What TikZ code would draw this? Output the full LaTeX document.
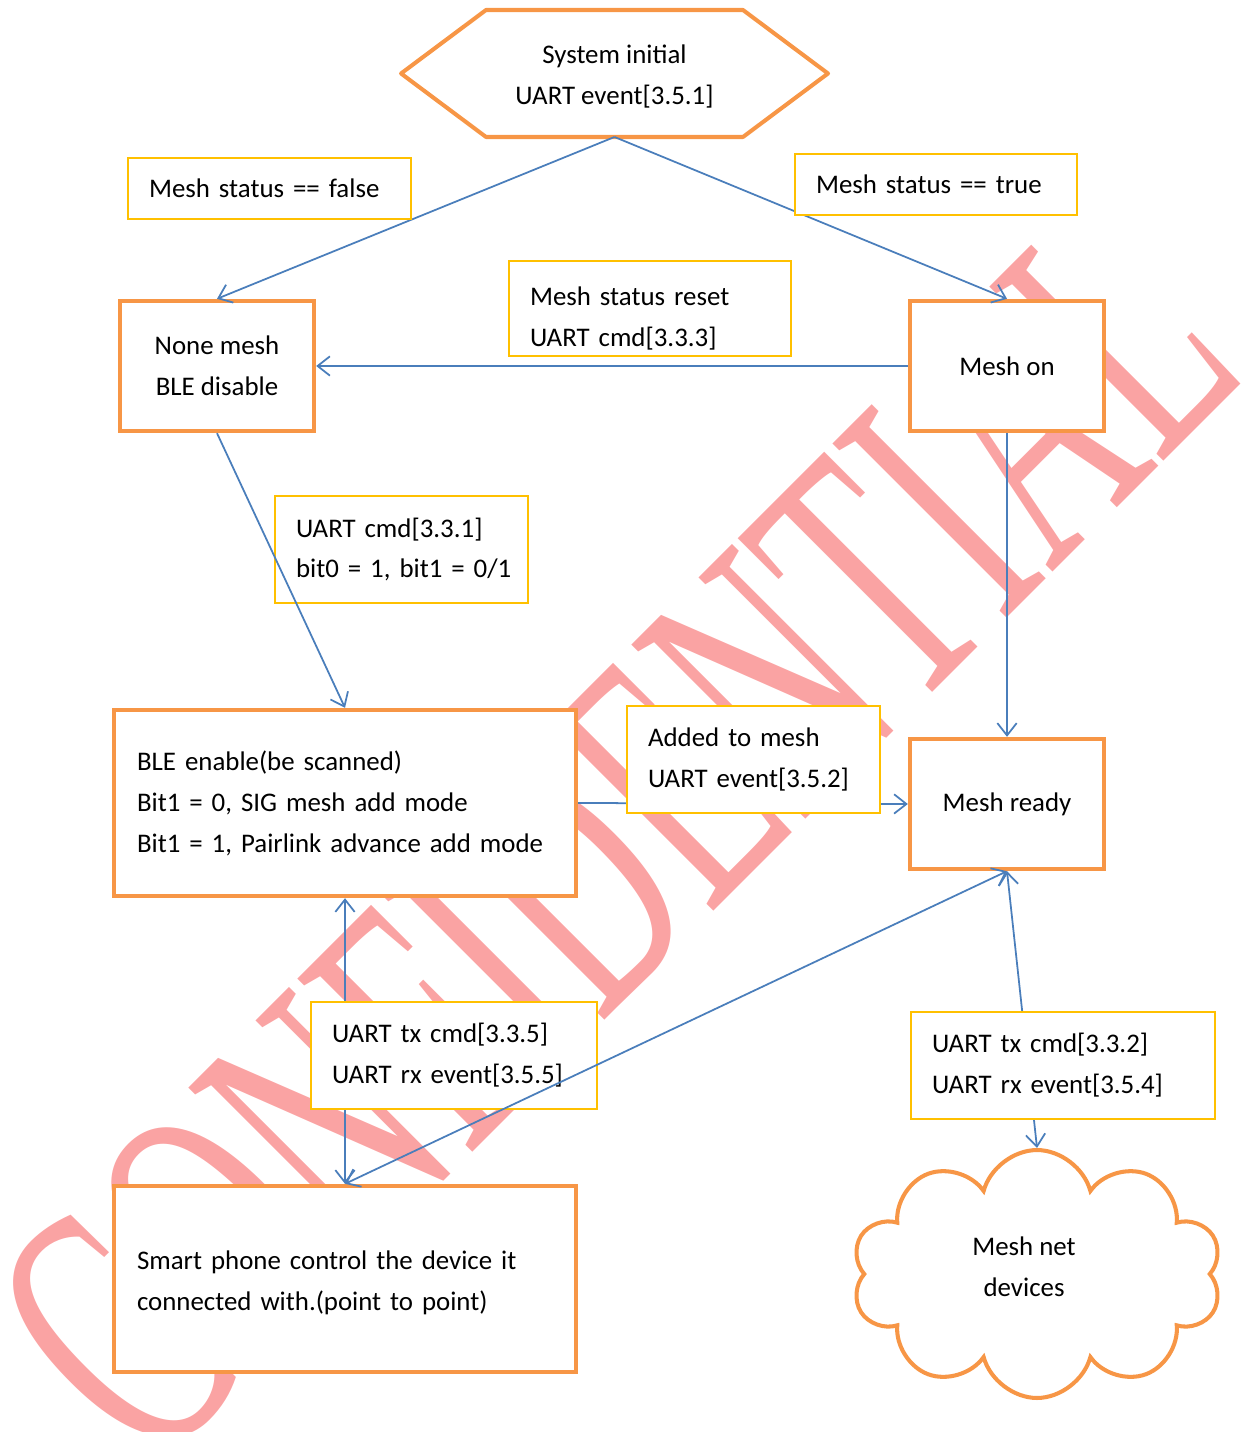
\documentclass[tikz,border=0pt]{standalone}
\usepackage{fontspec}
\setmainfont{Carlito}
\newfontfamily\wmfont{Liberation Serif}
\usetikzlibrary{arrows.meta,shapes.symbols}
\definecolor{boxorange}{RGB}{247,150,70}
\definecolor{lblyellow}{RGB}{255,192,0}
\definecolor{linkblue}{RGB}{74,126,187}
\definecolor{wmpink}{RGB}{250,163,163}

\begin{document}
\begin{tikzpicture}[x=0.02cm, y=-0.02cm,
    >={Straight Barb[length=7pt,width=11pt]},
    txt/.style={font=\fontsize{15.3}{23.3}\selectfont},
    state/.style={txt, draw=boxorange, line width=2.5pt, fill=white, align=center, minimum width=3.88cm, minimum height=2.6cm},
    bigstate/.style={txt, draw=boxorange, line width=2.5pt, fill=white, align=left, inner xsep=0.46cm, text width=8.32cm, minimum height=3.72cm},
    cond/.style={txt, draw=lblyellow, line width=1.1pt, fill=white, align=left, inner xsep=0.42cm},
    link/.style={draw=linkblue, line width=1pt}]
  \useasboundingbox (0,0) rectangle (1248,1432);

  % watermark
  \node[anchor=base west, rotate=45, inner sep=0, text=wmpink, font=\wmfont\fontsize{214}{214}\selectfont] (wm) at (150,1475) {\scalebox{0.565}[1]{CONFIDENTIAL}};

  % states
  \node[txt, minimum width=5.14cm, minimum height=2.54cm, align=center, inner sep=0, outer sep=0] (init) at (614.5,73.5) {\rule{0pt}{14.5pt}System initial\\UART event[3.5.1]};
  \draw[draw=boxorange, line width=2.3pt, line join=round] (init.north west) -- (init.north east) -- ([shift={(85,0)}]init.east) -- (init.south east) -- (init.south west) -- ([shift={(-85,0)}]init.west) -- cycle;
  \node[state] (none) at (217,366) {None mesh\\BLE disable};
  \node[state] (meshon) at (1007,366) {Mesh on};
  \node[bigstate] (bleon) at (345,803) {BLE enable(be scanned)\\Bit1 = 0, SIG mesh add mode\\Bit1 = 1, Pairlink advance add mode};
  \node[state] (ready) at (1007,804) {Mesh ready};
  \node[bigstate] (phone) at (345,1279) {\rule{0pt}{14.5pt}Smart phone control the device it\\connected with.(point to point)};
  \node[txt, cloud, cloud puffs=10, cloud ignores aspect, draw=boxorange, line width=2.3pt, fill=white, align=center, minimum width=7.4cm, minimum height=4.96cm] (net) at (1037,1274) {Mesh net\hspace*{0.52cm}\\devices\hspace*{0.52cm}\rule[-0.28cm]{0pt}{0.1cm}};

  % links under the labels
  \draw[link, ->] (init.south) -- (none.north);
  \draw[link, ->] (init.south) -- (meshon.north);
  \draw[link, ->] (meshon.west) -- (none.east);
  \draw[link, ->] (meshon.south) -- (ready.north);
  \draw[link, ->] (bleon.east) -- (ready.west);
  \draw[link, <->] (bleon.south) -- (phone.north);
  \draw[link, <->] (ready.south) -- (net.north);

  % labels
  \node[cond, text width=4.82cm, minimum height=1.22cm] (nolbl) at (269.5,188.5) {Mesh status == false};
  \node[cond, text width=4.80cm, minimum height=1.22cm] (yeslbl) at (936,184.5) {Mesh status == true};
  \node[cond, text width=4.80cm, minimum height=1.86cm] (resetlbl) at (650,308.5) {\rule{0pt}{21.5pt}Mesh status reset\\UART cmd[3.3.3]};
  \node[cond, text width=4.22cm, minimum height=2.14cm] (enlbl) at (401.5,549.5) {UART cmd[3.3.1]\\\mbox{bit0 = 1, bit1 = 0/1}};
  \node[cond, text width=4.22cm, minimum height=2.14cm] (addlbl) at (753.5,759.5) {Added to mesh\\UART event[3.5.2]};
  \node[cond, text width=4.88cm, minimum height=2.14cm] (pplbl) at (454,1055.5) {UART tx cmd[3.3.5]\\UART rx event[3.5.5]};
  \node[cond, text width=5.24cm, minimum height=2.14cm] (meshlbl) at (1063,1065.5) {UART tx cmd[3.3.2]\\UART rx event[3.5.4]};

  % links over the labels
  \draw[link, ->] (none.south) -- (bleon.north);
  \draw[link, <->] (ready.south) -- (phone.north);
\end{tikzpicture}
\end{document}
